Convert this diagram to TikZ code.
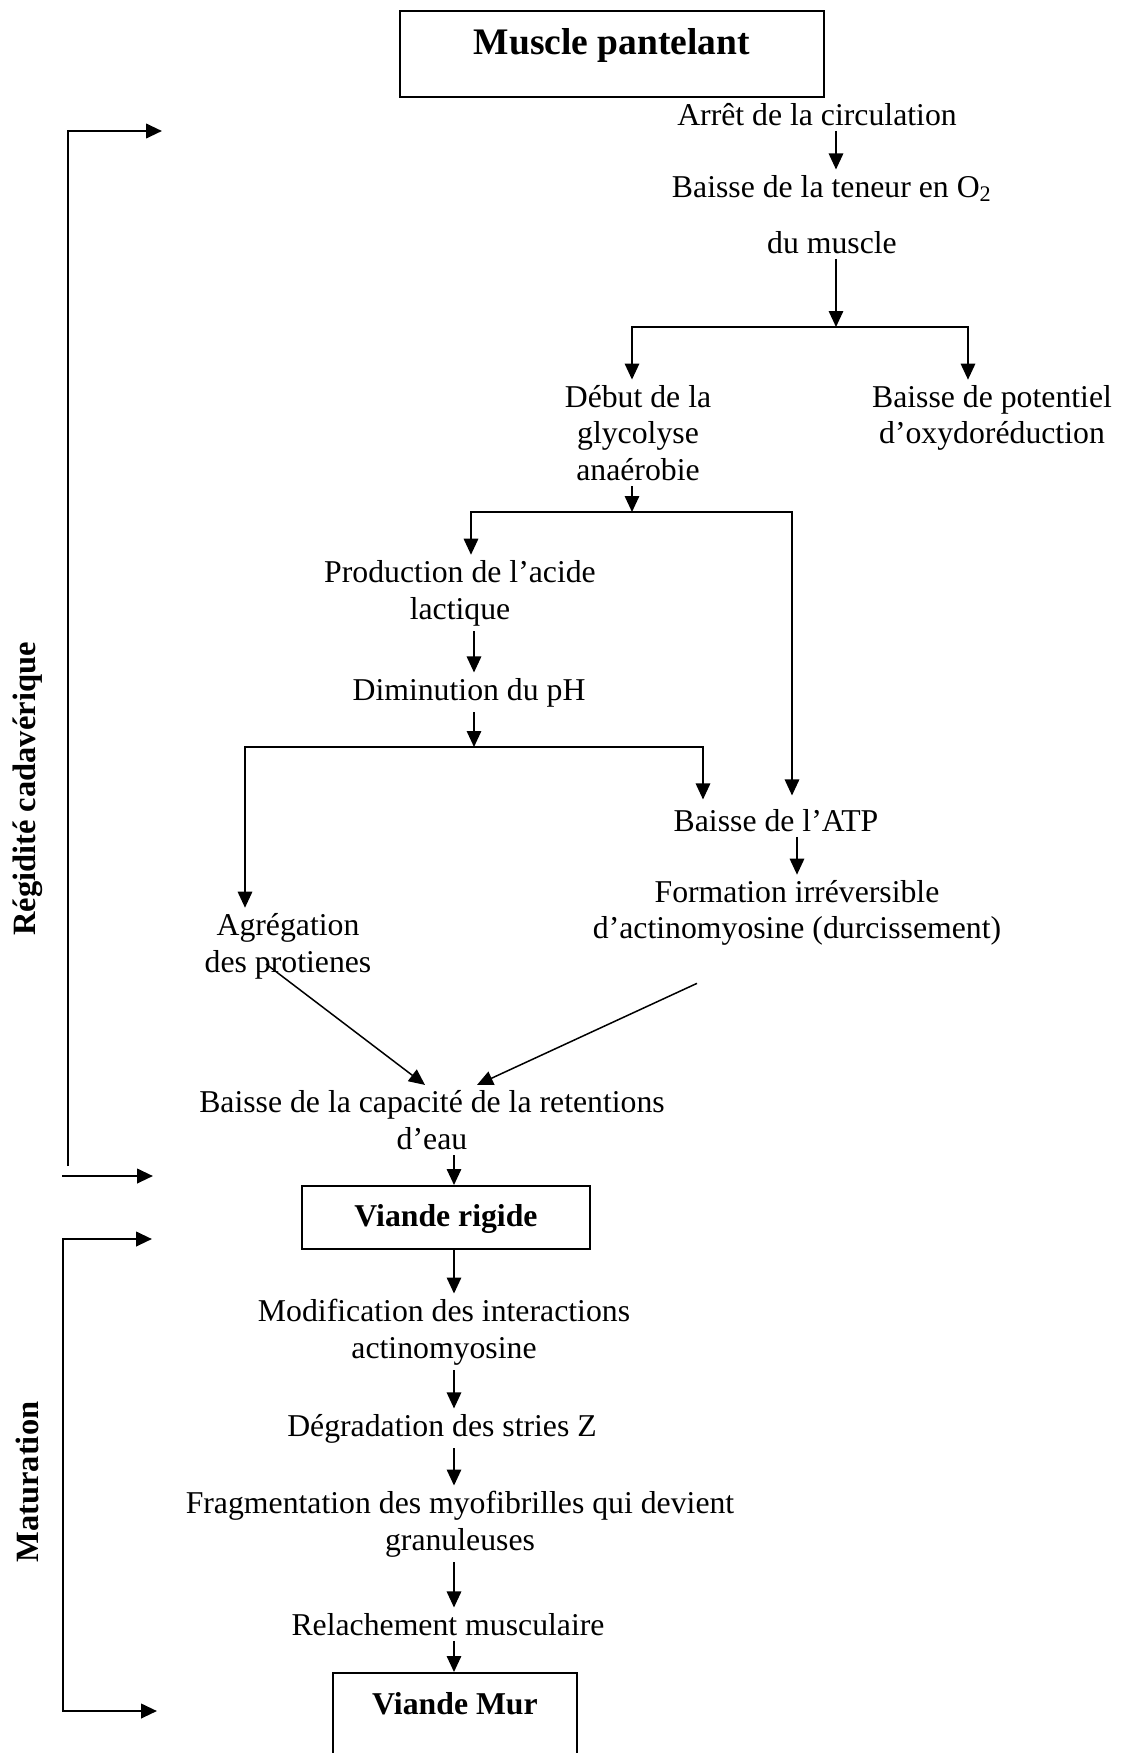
\documentclass[tikz,border=0pt]{standalone}
\usepackage{fontspec}
\setmainfont{Liberation Serif}
\usetikzlibrary{arrows.meta,calc}

\tikzset{
  txt/.style={font=\fontsize{12.7}{14.7}\selectfont, align=center, inner sep=2pt},
  boxnode/.style={draw, line width=0.8pt, inner sep=0pt, font=\bfseries\fontsize{12.7}{14.7}\selectfont},
  flow/.style={line width=0.6pt, ->},
  side/.style={line width=1pt},
  sidelabel/.style={rotate=90, anchor=base, inner sep=0pt, font=\bfseries\fontsize{13}{15}\selectfont}
}

\begin{document}
\begin{tikzpicture}[x=0.4pt,y=-0.4pt,>={Triangle[length=6.4pt,width=5.8pt]}]
\useasboundingbox (0,0) rectangle (1124,1753);

% boxes
\node[boxnode, anchor=north, minimum width=169.6pt, text height=17.5pt, text depth=16.9pt,
      font=\bfseries\fontsize{15}{17}\selectfont] (muscle) at (612,10) {Muscle pantelant};
\node[boxnode, anchor=north, minimum width=115.2pt, text height=16pt, text depth=9.2pt] (rigide) at (446,1185) {Viande rigide};
\node[boxnode, anchor=north, minimum width=97.6pt, text height=16.4pt, text depth=20pt] (mur) at (455,1672) {Viande Mur};

% steps
\node[txt, anchor=base] (arret) at (817,125) {Arrêt de la circulation};
\node[txt, anchor=base] (teneur) at (832,197) {Baisse de la teneur en O\textsubscript{2}};
\node[txt, anchor=base] (dumuscle) at (832,253) {du muscle};
\node[txt] (debut) at (638,433) {Début de la\\glycolyse\\anaérobie};
\node[txt] (potentiel) at (992,418) {Baisse de potentiel\\d’oxydoréduction};
\node[txt] (acide) at (460,593) {Production de l’acide\\lactique};
\node[txt, anchor=base] (ph) at (469,700) {Diminution du pH};
\node[txt, anchor=base] (atp) at (776,831) {Baisse de l’ATP};
\node[txt] (formation) at (797,913) {Formation irréversible\\d’actinomyosine (durcissement)};
\node[txt] (agregation) at (288,946) {Agrégation\\des protienes};
\node[txt] (capacite) at (432,1120) {Baisse de la capacité de la retentions\\d’eau};
\node[txt] (modif) at (444,1332) {Modification des interactions\\actinomyosine};
\node[txt, anchor=base] (stries) at (442,1436) {Dégradation des stries Z};
\node[txt] (fragment) at (460,1524) {Fragmentation des myofibrilles qui devient\\granuleuses};
\node[txt, anchor=base] (relach) at (448,1635) {Relachement musculaire};

% side labels
\node[sidelabel] (regidite) at (35,789) {Régidité cadavérique};
\node[sidelabel] (maturation) at (38,1482) {Maturation};

% branch points
\coordinate (b1) at (836,327);
\coordinate (b2) at (632,512);
\coordinate (b3) at (474,747);
\coordinate (axe) at (454,0);

\draw[flow] (arret.south -| b1) -- (teneur.north -| b1);
\draw[flow] (dumuscle.south -| b1) -- (b1);
\draw[flow] (b1) -| ($(debut.north)+(-6,0)$);
\draw[flow] (b1) -| ($(potentiel.north)+(-24,0)$);
\draw[flow] (debut.south -| b2) -- (b2);
\draw[flow] (b2) -| ($(acide.north)+(11,0)$);
\draw[flow] (b2) -| ($(atp.north)+(16,-8)$);
\draw[flow] (acide.south -| b3) -- (ph.north -| b3);
\draw[flow] (ph.south -| b3) -- (b3);
\draw[flow] (b3) -| ($(agregation.north)+(-43,0)$);
\draw[flow] (b3) -| ($(atp.north)+(-73,-4)$);
\draw[flow] (atp.south -| formation.north) -- (formation.north);
\draw[flow] ($(agregation.center)+(-22,18)$) -- ($(capacite.north)+(-7,0)$);
\draw[flow] ($(formation.south)+(-100,32)$) -- ($(capacite.north)+(45,0)$);
\draw[flow] (capacite.south -| axe) -- (rigide.north -| axe);
\draw[flow] (rigide.south -| axe) -- (modif.north -| axe);
\draw[flow] (modif.south -| axe) -- (stries.north -| axe);
\draw[flow] (stries.south -| axe) -- (fragment.north -| axe);
\draw[flow] (fragment.south -| axe) -- (relach.north -| axe);
\draw[flow] (relach.south -| axe) -- (mur.north -| axe);

% brackets
\coordinate (regA) at (68,131);
\coordinate (regB) at (68,1166);
\coordinate (regC) at (62,1176);
\coordinate (regD) at (153,1176);
\coordinate (regE) at (162,131);
\coordinate (matA) at (63,1239);
\coordinate (matB) at (152,1239);
\coordinate (matC) at (63,1711);
\coordinate (matD) at (157,1711);
\draw[side, ->] (regB) -- (regA) -- (regE);
\draw[side, ->] (regC) -- (regD);
\draw[side, <->] (matB) -- (matA) -- (matC) -- (matD);
\end{tikzpicture}
\end{document}
